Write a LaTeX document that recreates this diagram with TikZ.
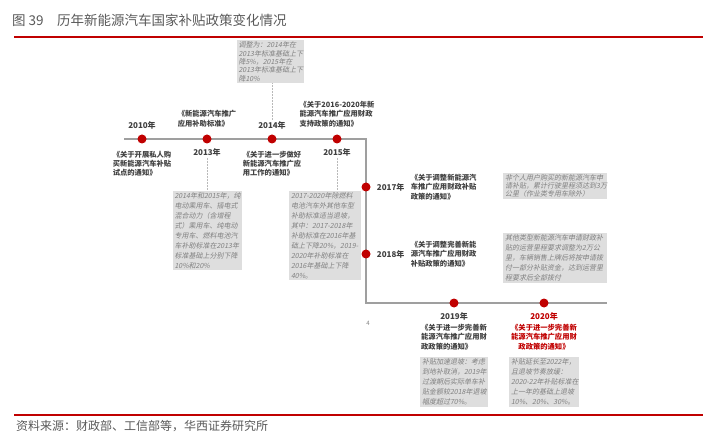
\documentclass[tikz,border=0pt]{standalone}
\usepackage{fontspec}
\setmainfont{Noto Sans CJK SC}
\newfontfamily\slantfont{Noto Sans CJK SC}[FakeSlant=0.2]
\usetikzlibrary{positioning}
\definecolor{tlred}{HTML}{C00000}
\definecolor{notefill}{HTML}{DEDEDE}
\definecolor{notetext}{HTML}{808080}
\definecolor{labeltext}{HTML}{404040}
\definecolor{captext}{HTML}{595959}

\begin{document}
\begin{tikzpicture}[ x=1pt, y=-1pt, tline/.style={ draw=gray!75, line width=1.1pt }, dot/.style={ circle, fill=tlred, inner sep=0pt, minimum size=9pt }, yearlabel/.style={ font=\bfseries\fontsize{8}{9.5}\selectfont, text=labeltext, inner sep=1pt }, notice/.style={ font=\bfseries\fontsize{7.3}{9.4}\selectfont, text=labeltext, align=left, inner sep=1pt }, note/.style={ fill=notefill, font=\slantfont\fontsize{7}{10}\selectfont, text=notetext, align=left, inner xsep=2pt, inner ysep=1.5pt, text width=#1 }, tightnote/.style={ note=#1, font=\slantfont\fontsize{7}{8.3}\selectfont }, link/.style={ draw=gray!55, densely dotted, line width=0.5pt }, redrule/.style={ draw=tlred, line width=1.8pt } ]
\useasboundingbox (0,0) rectangle (725,438);

% --- Titolo e righe ---
\node[anchor=west, font=\fontsize{13.5}{15}\selectfont, text=captext, inner sep=0pt] (title) at (12,20) {图 39\quad 历年新能源汽车国家补贴政策变化情况};
\coordinate (topl) at (14,37); \coordinate (topr) at (703,37);
\draw[redrule] (topl) -- (topr);

\coordinate (footl) at (14,415); \coordinate (footr) at (703,415);
\draw[redrule] (footl) -- (footr);
\node[anchor=west, font=\fontsize{12}{14}\selectfont, text=captext, inner sep=0pt] (source) at (16,426) {资料来源：财政部、工信部等，华西证券研究所};

% --- Linea del tempo ---
\coordinate (tstart) at (124,139);
\coordinate (tbend) at (366,139);
\coordinate (tcorner) at (366,303);
\coordinate (tend) at (607,303);
\draw[tline] (tstart) -- (tbend) -- (tcorner) -- (tend);

\node[dot] (d2010) at (142,139) {};
\node[dot] (d2013) at (207,139) {};
\node[dot] (d2014) at (272,139) {};
\node[dot] (d2015) at (337,139) {};
\node[dot] (d2017) at (366,187) {};
\node[dot] (d2018) at (366,254) {};
\node[dot] (d2019) at (454,303) {};
\node[dot] (d2020) at (544,303) {};

% --- Anni ---
\node[yearlabel, above=4pt of d2010] (y2010) {2010年};
\node[yearlabel, below=4pt of d2013] (y2013) {2013年};
\node[yearlabel, above=4pt of d2014] (y2014) {2014年};
\node[yearlabel, below=4pt of d2015] (y2015) {2015年};
\node[yearlabel, right=5pt of d2017] (y2017) {2017年};
\node[yearlabel, right=5pt of d2018] (y2018) {2018年};
\node[yearlabel, below=4pt of d2019] (y2019) {2019年};
\node[yearlabel, below=4pt of d2020, text=tlred] (y2020) {2020年};

% --- Documenti ---
\node[notice, below=6pt of d2010] (n2010) {《关于开展私人购\\买新能源汽车补贴\\试点的通知》};
\node[notice, above=6pt of d2013] (n2013) {《新能源汽车推广\\应用补助标准》};
\node[notice, below=6pt of d2014] (n2014) {《关于进一步做好\\新能源汽车推广应\\用工作的通知》};
\node[notice, above=6pt of d2015] (n2015) {《关于2016-2020年新\\能源汽车推广应用财政\\支持政策的通知》};
\node[notice, right=4pt of y2017] (n2017) {《关于调整新能源汽\\车推广应用财政补贴\\政策的通知》};
\node[notice, right=4pt of y2018] (n2018) {《关于调整完善新能\\源汽车推广应用财政\\补贴政策的通知》};
\node[notice, below=1pt of y2019] (n2019) {《关于进一步完善新\\能源汽车推广应用财\\政政策的通知》};
\node[notice, align=center, below=1pt of y2020, text=tlred] (n2020) {《关于进一步完善新\\能源汽车推广应用财\\政政策的通知》};

% --- Note grigie ---
\node[tightnote=63pt, above=37pt of y2014, xshift=-2pt] (b2014) {调整为：2014年在\\2013年标准基础上下\\降5\%，2015年在\\2013年标准基础上下\\降10\%};
\node[note=65pt, below=33pt of y2013] (b2013) {2014年和2015年，纯\\电动乘用车、插电式\\混合动力（含增程\\式）乘用车、纯电动\\专用车、燃料电池汽\\车补助标准在2013年\\标准基础上分别下降\\10\%和20\%};
\node[note=68pt, below=33pt of y2015, xshift=-12pt] (b2015) {2017-2020年除燃料\\电池汽车外其他车型\\补助标准适当退坡，\\其中：2017-2018年\\补助标准在2016年基\\础上下降20\%，\mbox{2019-}\\2020年补助标准在\\2016年基础上下降\\40\%。};
\node[tightnote=100pt, anchor=west] (b2017) at (503,186) {非个人用户购买的新能源汽车申\\请补贴，累计行驶里程须达到3万\\公里（作业类专用车除外）};
\node[note=100pt, anchor=west] (b2018) at (503,258) {其他类型新能源汽车申请财政补\\贴的运营里程要求调整为2万公\\里，车辆销售上牌后将按申请拨\\付一部分补贴资金，达到运营里\\程要求后全部拨付};
\node[note=64pt, below=6pt of n2019] (b2019) {补贴加速退坡：考虑\\到地补取消，2019年\\过渡期后实际单车补\\贴金额较2018年退坡\\幅度超过70\%。};
\node[note=66pt, below=6pt of n2020] (b2020) {补贴延长至2022年，\\且退坡节奏放缓：\\\mbox{2020-22年补贴标准在}\\上一年的基础上退坡\\10\%、20\%、30\%。};

% --- Linee tratteggiate ---
\draw[link] (b2014.south -| y2014.north) -- (y2014.north);
\draw[link] (y2013.south) -- (b2013.north);
\draw[link] (y2015.south) -- (y2015.south |- b2015.north);

\node[font=\fontsize{6}{7}\selectfont, text=gray, inner sep=0pt] (pagenum) at (368,323) {4};
\end{tikzpicture}
\end{document}
